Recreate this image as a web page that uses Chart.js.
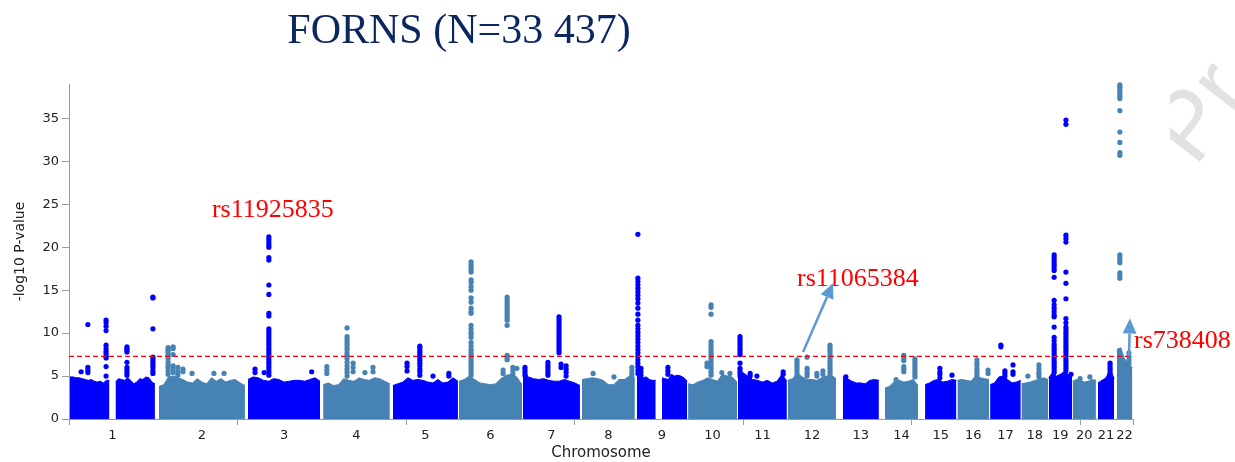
<!DOCTYPE html>
<html>
<head>
<meta charset="utf-8">
<script src="https://cdn.jsdelivr.net/npm/chart.js@4.4.1/dist/chart.umd.min.js"></script>
<style>
  html, body { margin: 0; padding: 0; background: #fff; }
  canvas { display: block; }
</style>
</head>
<body>
<canvas id="manhattan" width="1235" height="462"></canvas>
<script>
// ---------------------- data ---------------------
// cumulative genome position (Mb) of each chromosome
var chrNames = ['1','2','3','4','5','6','7','8','9','10','11','12','13','14','15','16','17','18','19','20','21','22'];
var chrStart = [3, 267, 531, 754, 961, 1157, 1347, 1522, 1685, 1837, 1985, 2133, 2296, 2421, 2540, 2636, 2733, 2826, 2907, 2978, 3053, 3109];
var chrEnd   = [255, 522, 745, 952, 1154, 1344, 1516, 1679, 1834, 1982, 2130, 2276, 2403, 2519, 2633, 2730, 2824, 2905, 2976, 3047, 3101, 3155];

// top of the dense cloud of SNPs, evenly spaced along each chromosome (null = centromere gap)
var bandTop = [
  [4.9, 4.9, 4.8, 4.8, 4.7, 4.6, 4.5, 4.6, 4.4, 4.3, 4.4, 4.2, 4.5, 4.5, null, 4.3, 4.7, 4.6, 4.5, 4.8, 4.5, 4.1, 4.3, 4.7, 4.6, 4.9, 4.8, 4.3, 4.1],
  [3.8, 4.0, 4.9, 5.0, 4.8, 4.6, 4.3, 4.2, 4.7, 4.3, 4.1, 4.8, 4.4, 4.7, 4.3, 4.5, 4.6, 4.2, 3.9],
  [4.6, 4.9, 4.8, 4.5, 4.4, 4.7, 4.6, 4.3, 4.4, 4.5, 4.5, 4.4, 4.6, 4.8, 4.4],
  [4.0, 4.2, 3.9, 4.0, 4.7, 4.5, 4.4, 4.8, 4.6, 4.5, 4.8, 4.7, 4.4, 4.1],
  [3.9, 4.1, 4.3, 4.8, 4.5, 4.6, 4.5, 4.3, 4.2, 4.6, 4.2, 4.3, 4.8, 4.4],
  [4.4, 4.6, 5.0, 4.6, 4.2, 4.1, 4.0, 4.1, 4.7, 5.1, 5.2, 4.9, 4.0],
  [5.9, 4.9, 4.7, 4.6, 4.7, 4.5, 4.4, 4.4, 4.6, 4.4, 4.2, 3.9],
  [4.6, 4.7, 4.8, 4.7, 4.5, 4.0, 4.0, 4.6, 4.6, 5.0, 4.7],
  [5.0, 4.9, 4.8, 4.9, 4.6, 4.5, 4.5, null, 4.8, 4.7, 4.6, 5.2, 5.0, 5.1, 5.0, 4.8, 4.4],
  [4.1, 4.0, 4.3, 4.5, 4.8, 4.6, 4.4, 5.2, 5.0, 4.9, 4.3],
  [5.2, 5.4, 5.0, 4.6, 4.5, 4.3, 4.5, 4.2, 4.4, 5.2, 4.4],
  [4.5, 4.7, 5.3, 4.9, 4.6, 4.6, 4.5, 4.8, 5.0, 5.1, 4.7],
  [4.9, 4.7, 4.4, 4.2, 4.2, 4.1, 4.5, 4.6, 4.5],
  [3.6, 3.8, 4.4, 4.5, 4.3, 4.4, 4.6, 3.9],
  [4.0, 4.2, 4.5, 4.6, 4.3, 4.4, 4.6, 4.5],
  [4.5, 4.6, 4.5, 4.4, 5.0, 4.8, 4.7, 4.6],
  [4.0, 4.2, 4.9, 5.0, 4.6, 4.2, 4.3, 4.5],
  [4.1, 4.2, 4.3, 4.5, 4.6, 4.8, 4.6],
  [4.8, 5.4, 5.0, 5.2, 5.5, 5.2, 4.8],
  [4.4, 4.6, 4.5, 4.3, 4.4, 4.6, 4.5],
  [4.2, 4.5, 4.8, 5.8, 4.7],
  [8.1, 8.3, 7.0, 6.4, 6.0]
];

// individual SNPs standing out of the cloud: chromosome, position (Mb), -log10 p of each dot
var peakChr = [1, 1, 1, 1, 1, 2, 2, 2, 2, 2, 2, 2, 3, 3, 3, 3, 4, 4, 4, 4, 4, 5, 5, 5, 5, 6, 6, 6, 6, 6,
               7, 7, 7, 7, 7, 8, 8, 8, 9, 9, 9, 10, 10, 10, 10, 11, 11, 11, 11, 12, 12, 12, 12, 12,
               13, 14, 14, 14, 15, 15, 16, 16, 17, 17, 17, 18, 18, 19, 19, 19, 20, 20, 21, 22, 22];
var peakPos = [36, 56, 110, 172, 249, 294, 309, 323, 338, 365, 430, 460, 552, 579, 593, 720, 765, 825, 843, 878, 902,
               1003, 1041, 1080, 1127, 1193, 1300, 1288, 1317, 1329,
               1353, 1421, 1454, 1460, 1475, 1555, 1617, 1670, 1688, 1697, 1777, 1905, 1893, 1937, 1961,
               1991, 2021, 2041, 2119, 2160, 2190, 2219, 2237, 2258,
               2305, 2454, 2477, 2510, 2584, 2620, 2694, 2727, 2765, 2777, 2801, 2878, 2845, 2923, 2958, 2973,
               3029, 3000, 3089, 3118, 3145];
var peakVals = [
  [5.5],
  [11.0, 6.0, 5.7, 5.4],
  [11.5, 11.2, 10.8, 10.3, 8.6, 8.2, 7.9, 7.6, 7.3, 7.1, 6.1, 5.0],
  [8.4, 8.2, 8.0, 7.8, 6.6, 6.0, 5.7, 5.4, 5.1],
  [14.2, 14.1, 10.5, 7.2, 6.9, 6.6, 6.3, 6.0, 5.6, 5.3],
  [8.3, 8.1, 7.9, 7.6, 7.3, 7.0, 6.6, 6.3, 6.0, 5.6, 5.2],
  [8.4, 8.2, 7.5, 6.2, 5.8, 5.4],
  [6.0, 5.5, 5.1],
  [5.8, 5.5],
  [5.3],
  [5.3],
  [5.3],
  [5.8, 5.4],
  [5.4],
  [21.2, 20.9, 20.6, 20.3, 20.0, 18.8, 18.5, 15.6, 14.5, 12.3, 12.0, 10.5, 10.2, 9.9, 9.6, 9.3, 9.0, 8.7, 8.4, 8.1, 7.8, 7.5, 7.2, 6.9, 6.6, 6.3, 6.0, 5.7, 5.4, 5.1],
  [5.5],
  [6.1, 5.7, 5.3],
  [10.6, 9.6, 9.3, 9.0, 8.7, 8.4, 8.1, 7.7, 7.4, 7.0, 6.6, 6.2, 5.8, 5.4, 5.0],
  [6.5, 6.0, 5.5],
  [5.4],
  [6.0, 5.5],
  [6.5, 6.1, 5.6],
  [8.5, 8.3, 8.0, 7.7, 7.4, 7.1, 6.8, 6.5, 6.2, 5.8, 5.5, 5.1],
  [5.0],
  [5.3, 5.0],
  [18.3, 18.0, 17.7, 17.4, 17.1, 16.2, 15.9, 15.4, 15.0, 14.1, 13.6, 12.9, 12.5, 12.3, 10.9, 10.5, 10.1, 9.8, 9.5, 8.9, 8.5, 8.1, 7.8, 7.5, 7.2, 6.9, 6.6, 6.3, 6.0, 5.7, 5.4, 5.1],
  [14.2, 13.9, 13.6, 13.3, 13.0, 12.7, 12.4, 12.1, 11.8, 11.5, 10.9, 7.4, 7.1, 6.9],
  [5.7, 5.3],
  [6.0, 5.6, 5.2],
  [5.9],
  [6.0, 5.7, 5.4, 5.1],
  [6.6, 6.3, 6.0, 5.7, 5.4, 5.1],
  [11.9, 11.6, 11.3, 11.0, 10.7, 10.4, 10.1, 9.8, 9.5, 9.2, 8.9, 8.6, 8.3, 8.0, 7.7],
  [6.4, 6.0],
  [6.2, 5.8, 5.4, 5.0],
  [5.3],
  [4.9],
  [6.0, 5.6, 5.2, 4.9],
  [21.5, 16.4, 16.0, 15.6, 15.2, 14.8, 14.4, 14.0, 13.5, 12.9, 12.2, 11.5, 10.9, 10.5, 10.1, 9.7, 9.3, 8.9, 8.5, 8.1, 7.7, 7.3, 6.9, 6.5, 6.1, 5.7, 5.3],
  [5.9, 5.5, 5.1],
  [6.0, 5.6, 5.2],
  [13.3, 13.0, 12.2, 9.0, 8.7, 8.4, 8.1, 7.8, 7.5, 7.2, 6.9, 6.6, 6.3, 6.0, 5.7, 5.4, 5.1],
  [6.5, 6.1],
  [5.4],
  [5.3],
  [9.6, 9.3, 9.0, 8.7, 8.4, 8.1, 7.8, 7.5, 6.5, 5.9, 5.6, 5.3, 5.0],
  [5.3, 5.0],
  [5.0],
  [5.5, 5.2],
  [6.9, 6.6, 6.3, 6.0, 5.7, 5.4, 5.1],
  [7.2, 5.9, 5.6, 5.3, 5.0],
  [5.3, 5.0],
  [5.6, 5.2],
  [8.6, 8.3, 8.0, 7.7, 7.4, 7.1, 6.8, 6.5, 6.2, 5.9, 5.6, 5.3, 5.0],
  [4.9],
  [4.6],
  [7.4, 7.1, 6.8, 6.1, 5.8, 5.5],
  [7.0, 6.7, 6.4, 6.1, 5.8, 5.5, 5.2, 4.9],
  [5.9, 5.5, 5.2, 4.8],
  [5.1],
  [6.9, 6.5, 6.2, 5.8, 5.5, 5.2, 4.9],
  [5.7, 5.3],
  [8.6, 8.4],
  [5.6, 5.3, 5.0],
  [6.3, 5.5, 5.2],
  [6.3, 5.9, 5.5, 5.2, 4.9],
  [5.0],
  [19.1, 18.8, 18.5, 18.2, 17.9, 17.6, 17.3, 16.5, 13.8, 13.3, 12.9, 12.5, 12.1, 11.9, 10.7, 9.5, 9.1, 8.7, 8.4, 8.1, 7.8, 7.5, 7.2, 6.9, 6.6, 6.3, 6.0, 5.7, 5.4],
  [34.8, 34.3, 21.4, 21.0, 20.6, 17.1, 15.8, 14.0, 11.7, 11.2, 10.7, 10.4, 10.1, 9.8, 9.5, 9.2, 8.9, 8.6, 8.3, 8.0, 7.7, 7.4, 7.1, 6.8, 6.5, 6.2, 5.9, 5.6],
  [5.2],
  [4.9],
  [4.7],
  [6.5, 6.2, 5.9, 5.6, 5.3, 5.0],
  [38.9, 38.7, 38.5, 38.2, 37.9, 37.6, 37.3, 35.9, 33.4, 32.2, 31.0, 30.7, 19.1, 18.8, 18.5, 18.2, 17.0, 16.7, 16.4],
  [7.7, 7.3, 6.9, 6.5]
];

var threshold = 7.3;      // genome-wide significance, -log10(5e-8)
var axisMax = 3157;       // Mb
var yMax = 39;

// annotated SNPs (label anchor and arrow, in data units)
var snpNames  = ['rs11925835', 'rs11065384', 'rs738408'];
var snpLabelX = [424, 2160, 3160];
var snpLabelY = [23.5, 15.5, 8.3];
var arrowFrom = [null, [2178, 7.8], [3145, 7.3]];
var arrowTo   = [null, [2267, 15.8], [3148, 11.7]];

// ---------------------- build datasets ---------------------
var blue = '#0000ff';
var steel = '#4682b4';
function chrColor(n) { return n % 2 === 1 ? blue : steel; }

var datasets = [];

datasets.push({
  data: [{x: 0, y: threshold}, {x: axisMax, y: threshold}],
  borderColor: '#ff0000',
  borderWidth: 1.2,
  borderDash: [5, 3],
  pointRadius: 0,
  fill: false,
  order: 0
});

var hitsOdd = [], hitsEven = [];
for (var i = 0; i < peakChr.length; i++) {
  for (var j = 0; j < peakVals[i].length; j++) {
    var pt = {x: peakPos[i], y: peakVals[i][j]};
    if (peakChr[i] % 2 === 1) hitsOdd.push(pt); else hitsEven.push(pt);
  }
}
[[hitsOdd, blue], [hitsEven, steel]].forEach(function(h) {
  datasets.push({
    data: h[0],
    showLine: false,
    pointRadius: 2.6,
    pointHoverRadius: 0,
    pointBorderWidth: 0,
    pointBackgroundColor: h[1],
    clip: false,
    order: 1
  });
});

for (var c = 0; c < chrNames.length; c++) {
  var vals = bandTop[c];
  var step = (chrEnd[c] - chrStart[c]) / (vals.length - 1);
  var pts = vals.map(function(v, k) { return {x: chrStart[c] + k * step, y: v}; });
  var col = chrColor(c + 1);
  datasets.push({
    data: pts,
    borderColor: col,
    backgroundColor: col,
    borderWidth: 1,
    pointRadius: 0,
    tension: 0,
    fill: 'origin',
    spanGaps: false,
    order: 2
  });
}

// ---------------------- title, annotations, watermark ---------------------
var decorations = {
  id: 'decorations',
  beforeDraw: function(chart) {
    var ctx = chart.ctx;
    ctx.save();
    ctx.beginPath();
    ctx.rect(1170, 0, 65, 200);
    ctx.clip();
    ctx.translate(1195, 168);
    ctx.rotate(-52 * Math.PI / 180);
    ctx.font = '95px "Liberation Sans"';
    ctx.fillStyle = '#e2e2e4';
    ctx.fillText('Pr', 0, 0);
    ctx.restore();
  },
  afterDraw: function(chart) {
    var ctx = chart.ctx;
    var xs = chart.scales.x, ys = chart.scales.y;
    ctx.save();
    ctx.font = '42px "Liberation Serif"';
    ctx.fillStyle = '#0c2660';
    ctx.textAlign = 'center';
    ctx.textBaseline = 'alphabetic';
    ctx.fillText('FORNS (N=33 437)', 459, 43);

    ctx.font = '26px "Liberation Serif"';
    ctx.fillStyle = '#ff0000';
    ctx.textAlign = 'left';
    for (var i = 0; i < snpNames.length; i++) {
      ctx.fillText(snpNames[i], xs.getPixelForValue(snpLabelX[i]), ys.getPixelForValue(snpLabelY[i]));
    }

    ctx.strokeStyle = '#5b9bd5';
    ctx.fillStyle = '#5b9bd5';
    ctx.lineWidth = 2.5;
    for (var k = 0; k < arrowFrom.length; k++) {
      if (!arrowFrom[k]) continue;
      var x0 = xs.getPixelForValue(arrowFrom[k][0]), y0 = ys.getPixelForValue(arrowFrom[k][1]);
      var x1 = xs.getPixelForValue(arrowTo[k][0]), y1 = ys.getPixelForValue(arrowTo[k][1]);
      var a = Math.atan2(y1 - y0, x1 - x0);
      var hl = 15, hw = 7;
      var bx = x1 - hl * Math.cos(a), by = y1 - hl * Math.sin(a);
      ctx.beginPath();
      ctx.moveTo(x0, y0);
      ctx.lineTo(bx, by);
      ctx.stroke();
      ctx.beginPath();
      ctx.moveTo(x1, y1);
      ctx.lineTo(bx + hw * Math.sin(a), by - hw * Math.cos(a));
      ctx.lineTo(bx - hw * Math.sin(a), by + hw * Math.cos(a));
      ctx.closePath();
      ctx.fill();
    }
    ctx.restore();
  }
};

Chart.defaults.font.family = '"DejaVu Sans"';
Chart.defaults.color = '#222';

new Chart('manhattan', {
  type: 'line',
  data: { datasets: datasets },
  options: {
    responsive: false,
    animation: false,
    devicePixelRatio: 1,
    events: [],
    layout: { padding: { top: 84, right: 102, left: 0, bottom: 0 } },
    plugins: { legend: { display: false }, tooltip: { enabled: false }, title: { display: false } },
    scales: {
      x: {
        type: 'linear',
        min: 0,
        max: axisMax,
        afterBuildTicks: function(scale) {
          var t = [];
          for (var v = 0; v <= axisMax; v += 500) t.push({value: v});
          t.push({value: axisMax});
          chrNames.forEach(function(n, i) {
            t.push({value: (chrStart[i] + chrEnd[i]) / 2, mid: true, name: n});
          });
          t.sort(function(a, b) { return a.value - b.value; });
          scale.ticks = t;
        },
        afterFit: function(scale) { scale.height = 43; },
        ticks: {
          autoSkip: false,
          maxRotation: 0,
          minRotation: 0,
          padding: 3,
          color: '#222',
          font: { size: 13 },
          callback: function(value, index, ticks) { return ticks[index].name || ''; }
        },
        grid: {
          drawOnChartArea: false,
          tickLength: 6,
          tickWidth: 1,
          tickColor: function(ctx) { return ctx.tick && ctx.tick.mid ? 'rgba(0,0,0,0)' : '#9a9a9a'; }
        },
        border: { color: '#9a9a9a', width: 1 },
        title: { display: true, text: 'Chromosome', color: '#222', font: { size: 15 }, padding: { top: 0, bottom: 0 } }
      },
      y: {
        min: 0,
        max: yMax,
        afterFit: function(scale) { scale.width = 69; },
        ticks: { stepSize: 5, includeBounds: false, padding: 3, color: '#222', font: { size: 13 } },
        grid: { drawOnChartArea: false, tickLength: 7, tickColor: '#9a9a9a' },
        border: { color: '#9a9a9a', width: 1 },
        title: { display: true, text: '-log10 P-value', color: '#222', font: { size: 14 }, padding: { top: 12, bottom: 0 } }
      }
    }
  },
  plugins: [decorations]
});
</script>
</body>
</html>
